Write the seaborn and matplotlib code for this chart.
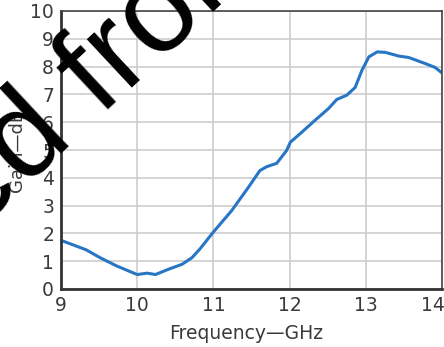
import numpy as np
import pandas as pd
import seaborn as sns
import matplotlib
matplotlib.use("Agg")
import matplotlib.pyplot as plt
from matplotlib.transforms import IdentityTransform, ScaledTranslation

# Gain vs frequency trace
freq_ghz = [9.00, 9.33, 9.51, 9.73, 10.00, 10.13, 10.24, 10.41, 10.59, 10.72,
            10.82, 11.00, 11.24, 11.46, 11.61, 11.70, 11.83, 11.96, 12.01, 12.16,
            12.33, 12.51, 12.62, 12.75, 12.86, 12.95, 13.04, 13.15, 13.26, 13.43,
            13.56, 13.78, 13.91, 14.00]
gain_db = [1.75, 1.41, 1.13, 0.83, 0.52, 0.57, 0.52, 0.71, 0.89, 1.13,
           1.43, 2.05, 2.82, 3.66, 4.26, 4.40, 4.52, 4.98, 5.28, 5.64,
           6.06, 6.49, 6.82, 6.97, 7.25, 7.87, 8.35, 8.53, 8.51, 8.38,
           8.33, 8.11, 7.97, 7.77]
x_ticks = [9, 10, 11, 12, 13, 14]
y_ticks = list(range(0, 11))

df = pd.DataFrame({"freq": freq_ghz, "gain": gain_db})

sns.set_theme(style="white")
plt.rcParams["font.family"] = ["DejaVu Sans"]

W, H = 444, 347
fig = plt.figure(figsize=(W / 100, H / 100), dpi=100)
ax = fig.add_axes([61 / W, 1 - 289 / H, 381 / W, 278 / H])

sns.lineplot(data=df, x="freq", y="gain", ax=ax, color="#2776c6", linewidth=2.2)

ax.set_xlim(9, 14)
ax.set_ylim(0, 10)
ax.set_xticks(x_ticks)
ax.set_yticks(y_ticks)
ax.grid(True, color="#cdcdcd", linewidth=1.2)
ax.set_axisbelow(True)
for side in ["top", "right"]:
    ax.spines[side].set_color("#444444")
    ax.spines[side].set_linewidth(1.2)
for side in ["left", "bottom"]:
    ax.spines[side].set_color("#333333")
    ax.spines[side].set_linewidth(2.0)

ax.tick_params(axis="both", labelsize=13.5, colors="#3a3a3a", length=0, pad=5)
# pull the last frequency label back toward the canvas
last = ax.get_xticklabels()[-1]
last.set_transform(last.get_transform() + ScaledTranslation(-9 / 100, 0, fig.dpi_scale_trans))

ax.set_xlabel("Frequency\u2014GHz", fontsize=13.5, color="#3a3a3a")
ax.xaxis.set_label_coords(0.485, -0.125)
ax.set_ylabel("Gain\u2014dB", fontsize=13, color="#3a3a3a", labelpad=3)

# Diagonal overlay caption, placed so its "d" starts at a fixed pixel spot
caption = "uced from"
cap_font = "Liberation Sans"
angle = 43.0
size = 90
fig.canvas.draw()
renderer = fig.canvas.get_renderer()
probe_full = fig.text(0, 0, caption, fontsize=size, family=cap_font)
probe_tail = fig.text(0, 0, caption[3:], fontsize=size, family=cap_font)
lead = (probe_full.get_window_extent(renderer).width
        - probe_tail.get_window_extent(renderer).width)
probe_full.remove()
probe_tail.remove()

d_x, d_y = 25, H - 188
rad = np.deg2rad(angle)
ox = d_x - lead * np.cos(rad)
oy = d_y - lead * np.sin(rad)
fig.text(ox, oy, caption, fontsize=size, color="black", family=cap_font,
         rotation=angle, rotation_mode="anchor", ha="left", va="baseline",
         transform=IdentityTransform())

fig.savefig("out.png", dpi=100)
